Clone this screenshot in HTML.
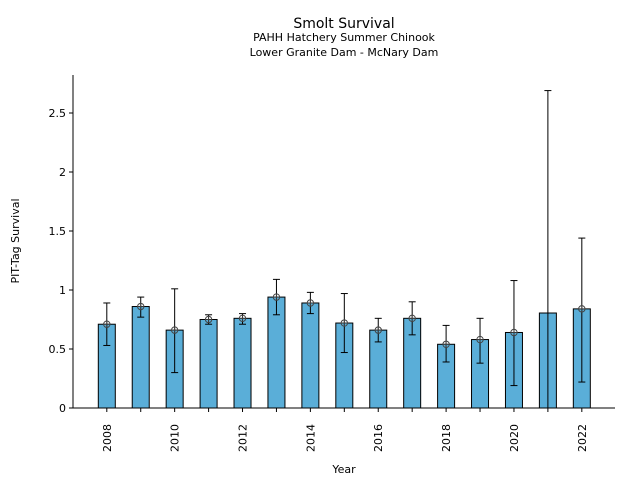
<!DOCTYPE html>
<html><head><meta charset="utf-8"><style>
body{margin:0;background:#fff}
svg{display:block;font-family:"DejaVu Sans","Liberation Sans",sans-serif}
</style></head><body>
<svg id="s" width="640" height="480" viewBox="0 0 640 480" xmlns="http://www.w3.org/2000/svg">
<text x="344" y="28" font-size="14" text-anchor="middle">Smolt Survival</text>
<text x="344" y="41" font-size="11" text-anchor="middle">PAHH Hatchery Summer Chinook</text>
<text x="344" y="56" font-size="11" text-anchor="middle">Lower Granite Dam - McNary Dam</text>
<text x="344" y="473" font-size="11" text-anchor="middle">Year</text>
<text transform="translate(19,241) rotate(-90)" font-size="11" text-anchor="middle">PIT-Tag Survival</text>
<g id="g"></g>
<line x1="73" y1="75" x2="73" y2="408" stroke="#000" stroke-width="1"/>
<line x1="73" y1="408" x2="615" y2="408" stroke="#000" stroke-width="1"/>
</svg>
<script>
var d=[[2008,.71,.53,.89],[2009,.86,.77,.94],[2010,.66,.30,1.01],[2011,.75,.71,.79],[2012,.76,.71,.80],[2013,.94,.79,1.09],[2014,.89,.80,.98],[2015,.72,.47,.97],[2016,.66,.56,.76],[2017,.76,.62,.90],[2018,.54,.39,.70],[2019,.58,.38,.76],[2020,.64,.19,1.08],[2021,.805,0,2.69],[2022,.84,.22,1.44]];
function Y(v){return 408-v*118;}
var h='';
[0,.5,1,1.5,2,2.5].forEach(function(v){var y=Y(v);h+='<line x1="69" y1="'+y+'" x2="73" y2="'+y+'" stroke="#000"/><text x="66" y="'+(y+4)+'" font-size="11" text-anchor="end">'+(v==0?'0':String(v))+'</text>';});
d.forEach(function(r,i){var c=106.8+i*33.93;
h+='<rect x="'+(c-8.5)+'" y="'+Y(r[1])+'" width="17" height="'+(r[1]*118)+'" fill="#5aaed8" stroke="#000" stroke-width="1"/>';
h+='<line x1="'+c+'" y1="'+Y(r[2])+'" x2="'+c+'" y2="'+Y(r[3])+'" stroke="#000"/>';
h+='<line x1="'+(c-3.5)+'" y1="'+Y(r[3])+'" x2="'+(c+3.5)+'" y2="'+Y(r[3])+'" stroke="#000"/>';
if(r[2]>0)h+='<line x1="'+(c-3.5)+'" y1="'+Y(r[2])+'" x2="'+(c+3.5)+'" y2="'+Y(r[2])+'" stroke="#000"/>';
if(r[0]!=2021){var y=Y(r[1]);h+='<circle cx="'+c+'" cy="'+y+'" r="3.2" fill="none" stroke="#444"/><line x1="'+(c-3.2)+'" y1="'+y+'" x2="'+(c+3.2)+'" y2="'+y+'" stroke="#444" stroke-width=".8"/><line x1="'+c+'" y1="'+(y-3.2)+'" x2="'+c+'" y2="'+(y+3.2)+'" stroke="#444" stroke-width=".8"/>';}
if(i%2==0){h+='<line x1="'+c+'" y1="408" x2="'+c+'" y2="412" stroke="#000"/><text transform="translate('+(c+4)+',424) rotate(-90)" font-size="11" text-anchor="end">'+r[0]+'</text>';}
else h+='<line x1="'+c+'" y1="408" x2="'+c+'" y2="412" stroke="#000"/>';
});
document.getElementById('g').innerHTML=h;
</script>
</body></html>
